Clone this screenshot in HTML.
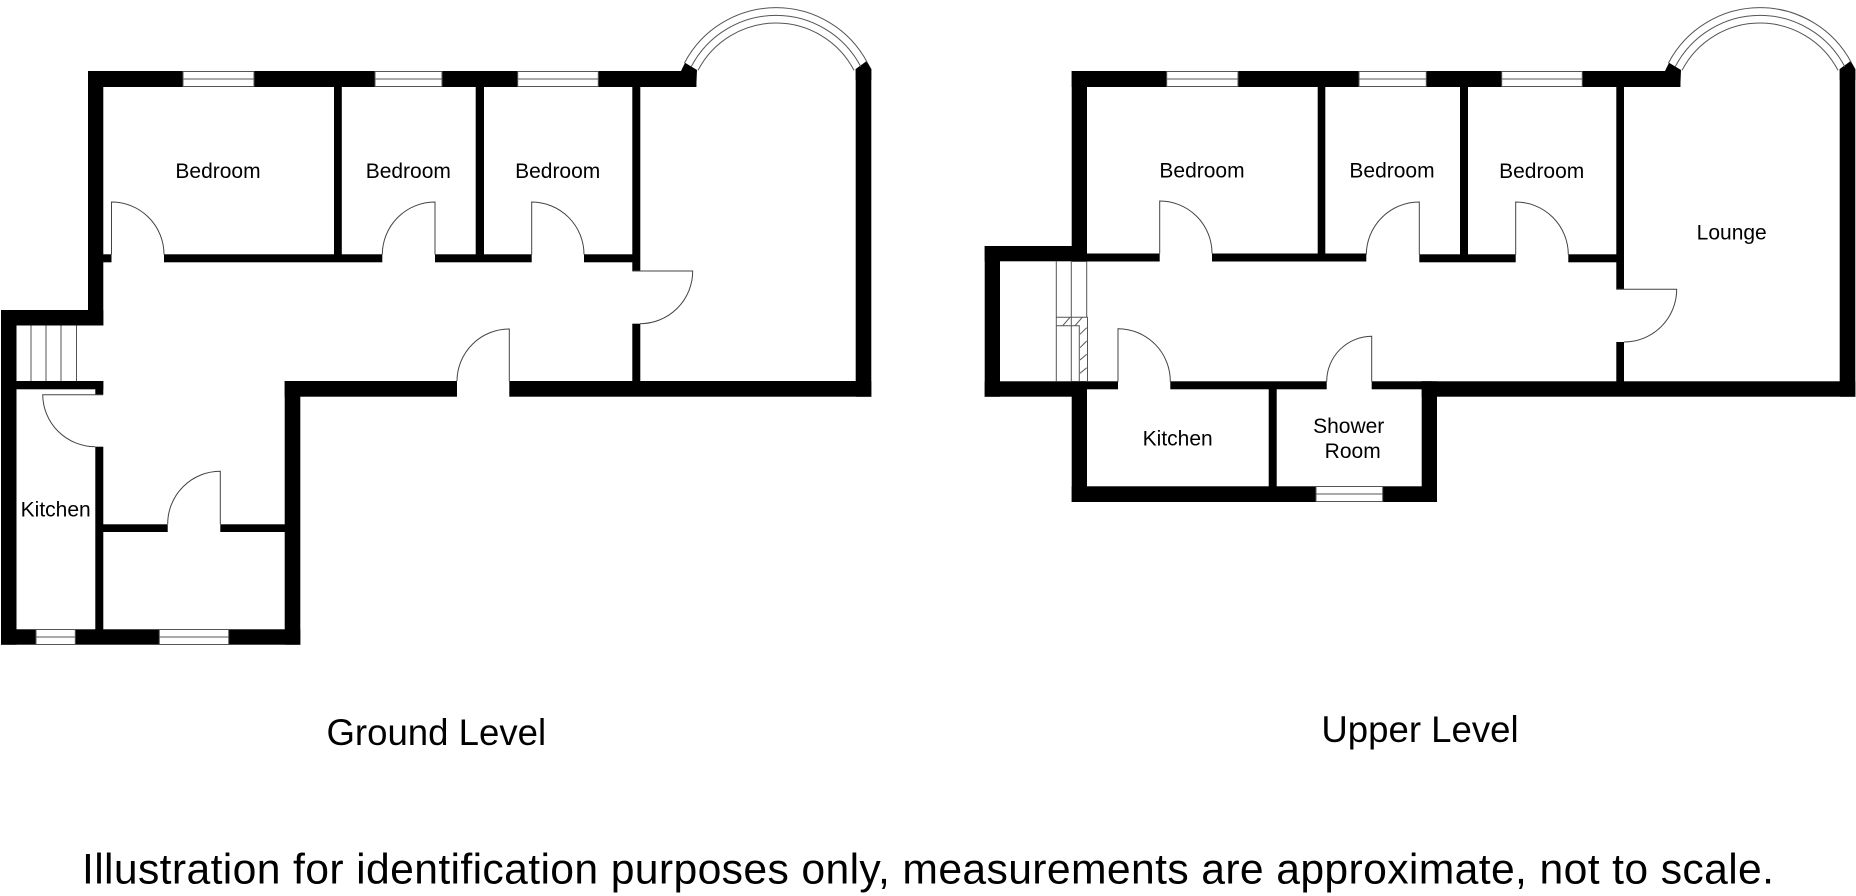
<!DOCTYPE html>
<html><head><meta charset="utf-8"><style>html,body{margin:0;padding:0;background:#fff}svg{display:block}text{font-family:"Liberation Sans",Arial,sans-serif;fill:#000;text-anchor:middle}</style></head>
<body>
<svg width="1856" height="896" viewBox="0 0 1856 896" xmlns="http://www.w3.org/2000/svg">
<rect width="1856" height="896" fill="#fff"/>
<g fill="#000">
<!-- Ground walls -->
<rect x="88" y="71" width="608.3" height="16"/>
<rect x="88" y="71" width="15.3" height="254.5"/>
<rect x="1" y="310" width="102.3" height="15.5"/>
<rect x="1" y="310" width="15.5" height="334.7"/>
<rect x="1" y="629.3" width="299.3" height="15.4"/>
<rect x="284.7" y="381" width="15.6" height="263.7"/>
<rect x="284.7" y="381" width="172.3" height="15.7"/>
<rect x="509.3" y="381" width="362" height="15.7"/>
<rect x="855.7" y="69" width="15.6" height="327.7"/>
<rect x="334" y="87" width="7.8" height="170"/>
<rect x="475.7" y="87" width="8.3" height="170"/>
<rect x="632.3" y="87" width="8" height="184"/>
<rect x="632.3" y="323.7" width="8" height="60"/>
<rect x="103" y="254.3" width="8.5" height="8"/>
<rect x="164" y="254.3" width="218.3" height="8"/>
<rect x="435" y="254.3" width="96.7" height="8"/>
<rect x="584" y="254.3" width="56" height="8"/>
<rect x="16" y="381" width="87.3" height="8.3"/>
<rect x="95.3" y="381" width="8" height="13.7"/>
<rect x="95.3" y="446.7" width="8" height="183"/>
<rect x="103" y="524.3" width="64.7" height="7.7"/>
<rect x="220.3" y="524.3" width="65" height="7.7"/>
<polygon points="685,62.7 697,70 696.3,87 681,87 681,71"/>
<polygon points="855.7,69 866.7,61 871.3,69 871.3,80 855.7,80"/>
<!-- Upper walls -->
<rect x="1071.7" y="71" width="608.6" height="16"/>
<rect x="1071.7" y="71" width="15.3" height="190.7"/>
<rect x="984.7" y="246" width="102.3" height="15.3"/>
<rect x="984.7" y="246" width="15.3" height="150.7"/>
<rect x="984.7" y="381.3" width="102.3" height="15.4"/>
<rect x="1071.7" y="381.3" width="15.3" height="120.7"/>
<rect x="1071.7" y="486.3" width="365.3" height="15.7"/>
<rect x="1421.7" y="381.3" width="15.3" height="120.7"/>
<rect x="1087" y="381.3" width="31" height="8"/>
<rect x="1170.3" y="381.3" width="156.4" height="8"/>
<rect x="1371.7" y="381.3" width="60" height="8"/>
<rect x="1421.7" y="381.3" width="433.6" height="15.4"/>
<rect x="1268.7" y="389" width="8" height="97.5"/>
<rect x="1087" y="253.5" width="72.7" height="8"/>
<rect x="1212" y="253.5" width="154.3" height="8"/>
<rect x="1419.3" y="254.3" width="96.4" height="8"/>
<rect x="1568.3" y="254.3" width="55.7" height="8"/>
<rect x="1317.7" y="87" width="7.6" height="168"/>
<rect x="1460" y="87" width="8" height="170"/>
<rect x="1616.3" y="87" width="7.7" height="202.3"/>
<rect x="1616.3" y="342" width="7.7" height="41"/>
<rect x="1839.7" y="69" width="15.6" height="327.7"/>
<polygon points="1669,62.7 1681,70 1680.3,87 1665,87 1665,71"/>
<polygon points="1839.7,69 1850.7,61 1855.3,69 1855.3,80 1839.7,80"/>
</g>
<!-- Windows -->
<g fill="#fff" stroke="#555" stroke-width="1">
<rect x="183" y="71.5" width="71" height="15"/><rect x="375" y="71.5" width="67" height="15"/><rect x="517.7" y="71.5" width="80.6" height="15"/>
<rect x="36" y="629.5" width="39.3" height="15"/><rect x="159.3" y="629.5" width="69.4" height="15"/>
<rect x="1166.7" y="71.5" width="71.3" height="15"/><rect x="1359" y="71.5" width="67.3" height="15"/><rect x="1501.7" y="71.5" width="80.6" height="15"/>
<rect x="1316" y="486.5" width="66.7" height="15"/>
</g>
<g fill="none" stroke="#555" stroke-width="1">
<path d="M183 79H254M375 79H442M517.7 79H598.3M36 637H75.3M159.3 637H228.7M1166.7 79H1238M1359 79H1426.3M1501.7 79H1582.3M1316 494H1382.7"/>
<!-- Bays -->
<path d="M684.4 63.1A103.4 103.4 0 0 1 867.6 63.1M691.2 66.7A95.7 95.7 0 0 1 860.8 66.7M698 70.3A88 88 0 0 1 854 70.3"/>
<path d="M1668.4 63.1A103.4 103.4 0 0 1 1851.6 63.1M1675.2 66.7A95.7 95.7 0 0 1 1844.8 66.7M1682 70.3A88 88 0 0 1 1838 70.3"/>
<!-- Stairs -->
<path d="M31 325.5V381M46 325.5V381M61 325.5V381M76.5 325.5V381"/>
<path d="M1056.3 261.3V381.3M1071.3 261.3V381.3M1086.7 261.3V317.3M1056.3 317.3H1087.5V381.3M1056.3 325.7H1079.3V381.3"/>
<path d="M1062.7 325.7L1070 317.3M1075 325.7L1082.3 317.3M1080 334.3L1086.7 327.7M1080 347.7L1086.7 341M1080 360L1086.7 354.3M1080 373.3L1086.7 367.7"/>
</g>
<!-- Doors -->
<g fill="none" stroke="#444" stroke-width="1">
<path d="M111.5 254.5V202A52.5 52.5 0 0 1 164 254.5"/>
<path d="M435 254.5V202A52.7 52.7 0 0 0 382.3 254.5"/>
<path d="M531.7 254.5V202A52.5 52.5 0 0 1 584 254.5"/>
<path d="M509.3 381V329A52.3 52.3 0 0 0 457 381"/>
<path d="M632.3 271H692.7A52.7 52.7 0 0 1 640 323.7"/>
<path d="M103 394.7H42.7A52.6 52.6 0 0 0 95.3 446.7"/>
<path d="M220.3 524.3V471.3A52.6 52.6 0 0 0 167.7 524.3"/>
<path d="M1159.7 253.5V201A52.3 52.3 0 0 1 1212 253.5"/>
<path d="M1419.3 254.5V202A53 53 0 0 0 1366.3 254.5"/>
<path d="M1515.7 254.5V202A52.6 52.6 0 0 1 1568.3 254.5"/>
<path d="M1118 381.7V328.7A52.5 52.5 0 0 1 1170.3 381.7"/>
<path d="M1371.7 381.7V336.3A45.2 45.2 0 0 0 1326.7 381.7"/>
<path d="M1616.3 289.3H1676.7A52.7 52.7 0 0 1 1624 342"/>
</g>
<!-- Labels -->
<g font-size="21">
<text x="218" y="178">Bedroom</text>
<text x="408.3" y="178">Bedroom</text>
<text x="557.7" y="178">Bedroom</text>
<text x="55.7" y="516.7">Kitchen</text>
<text x="1202" y="177.7">Bedroom</text>
<text x="1392" y="177.7">Bedroom</text>
<text x="1541.7" y="178">Bedroom</text>
<text x="1731.7" y="239.3">Lounge</text>
<text x="1177.7" y="445.3">Kitchen</text>
<text x="1348.7" y="433">Shower</text>
<text x="1352.7" y="458">Room</text>
</g>
<text x="436.3" y="745" font-size="36.6">Ground Level</text>
<text x="1420" y="742" font-size="36.6">Upper Level</text>
<text x="928" y="883.3" font-size="42.7" textLength="1692" lengthAdjust="spacing">Illustration for identification purposes only, measurements are approximate, not to scale.</text>
</svg>
</body></html>
